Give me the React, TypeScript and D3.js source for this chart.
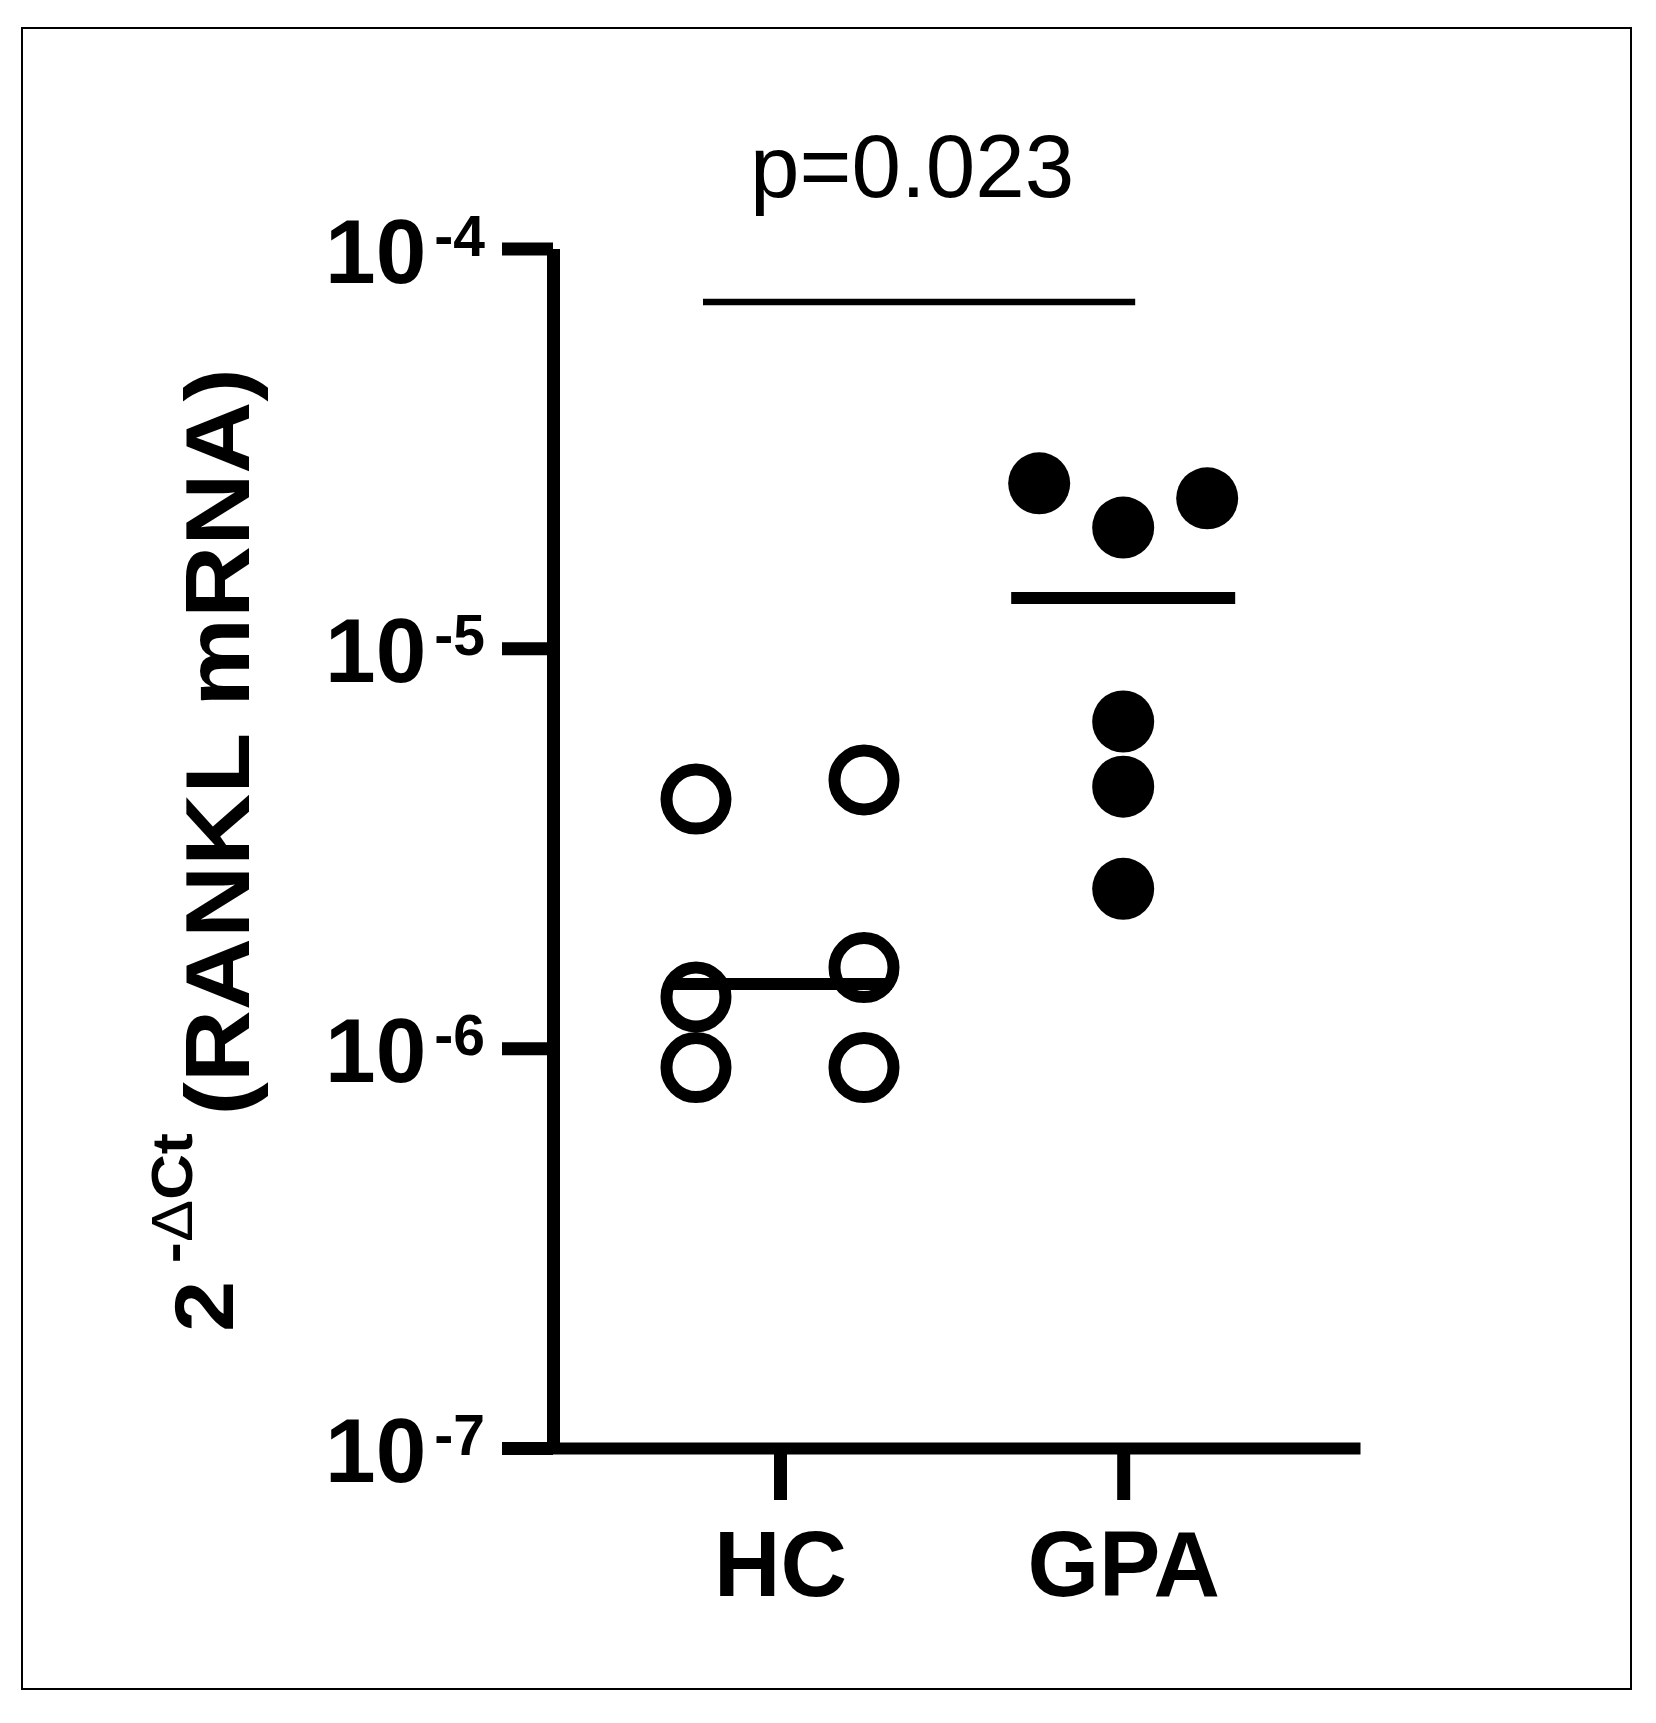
import React, { useEffect, useRef } from 'react';
import * as d3 from 'd3';

// groups on the x axis
const groups = ['HC', 'GPA'];

// HC (open circles), values and the jitter column each point sits in
const hcValues = [4.198e-6, 1.343e-6, 8.945e-7, 4.685e-6, 1.591e-6, 8.945e-7];
const hcColumns = [-1, -1, -1, 1, 1, 1];

// GPA (filled circles)
const gpaValues = [2.586e-5, 2.005e-5, 2.373e-5, 6.561e-6, 4.508e-6, 2.504e-6];
const gpaColumns = [-1, 0, 1, 0, 0, 0];

// horizontal centre lines: HC median, GPA mean
const centerLines = [1.447e-6, 1.336e-5];

const yTicks = [1e-7, 1e-6, 1e-5, 1e-4];
const yTickExponents = ['-7', '-6', '-5', '-4'];

const pLabel = 'p=0.023';

const FONT = '"Liberation Sans", Arial, Helvetica, sans-serif';

const W = 1656;
const H = 1723;

const App: React.FC = () => {
  const svgRef = useRef<SVGSVGElement | null>(null);

  useEffect(() => {
    if (!svgRef.current) return;
    const svg = d3.select(svgRef.current);
    svg.selectAll('*').remove();

    const y = d3.scaleLog().domain([1e-7, 1e-4]).range([1448, 248.5]);
    const x = d3
      .scalePoint<string>()
      .domain(groups)
      .range([502, 1360])
      .padding(0.75)
      .align(0.54);
    const colStep = 84;

    // outer frame
    svg
      .append('rect')
      .attr('x', 22)
      .attr('y', 28)
      .attr('width', 1609)
      .attr('height', 1661)
      .attr('fill', 'none')
      .attr('stroke', '#000')
      .attr('stroke-width', 2);

    // y axis
    const yAxis = svg
      .append('g')
      .attr('transform', 'translate(553,0)')
      .call(
        d3
          .axisLeft(y)
          .tickValues(yTicks)
          .tickSize(51)
          .tickSizeOuter(0)
          .tickFormat(() => '')
      );
    yAxis.select('.domain').attr('stroke', '#000').attr('stroke-width', 13);
    yAxis.selectAll('.tick line').attr('stroke', '#000').attr('stroke-width', 13);

    yTicks.forEach((t, i) => {
      const txt = svg
        .append('text')
        .attr('x', 485)
        .attr('y', y(t) + 34)
        .attr('text-anchor', 'end')
        .attr('font-family', FONT)
        .attr('font-weight', 'bold')
        .attr('font-size', 91)
        .attr('fill', '#000');
      txt.append('tspan').text('10');
      txt
        .append('tspan')
        .attr('dx', 8)
        .attr('dy', -27)
        .attr('font-size', 57)
        .text(yTickExponents[i]);
    });

    // x axis
    const xAxis = svg
      .append('g')
      .attr('transform', 'translate(0,1448)')
      .call(d3.axisBottom(x).tickSize(52).tickSizeOuter(0));
    xAxis.select('.domain').attr('stroke', '#000').attr('stroke-width', 12);
    xAxis.selectAll('.tick line').attr('stroke', '#000').attr('stroke-width', 13);
    xAxis
      .selectAll('.tick text')
      .attr('y', 148)
      .attr('dy', null)
      .attr('font-size', 92)
      .attr('font-weight', 'bold')
      .attr('font-family', FONT)
      .attr('fill', '#000');

    // points
    svg
      .append('g')
      .selectAll('circle')
      .data(hcValues)
      .join('circle')
      .attr('cx', (d, i) => (x('HC') as number) + hcColumns[i] * colStep)
      .attr('cy', (d) => y(d))
      .attr('r', 29.5)
      .attr('fill', 'none')
      .attr('stroke', '#000')
      .attr('stroke-width', 12);

    svg
      .append('g')
      .selectAll('circle')
      .data(gpaValues)
      .join('circle')
      .attr('cx', (d, i) => (x('GPA') as number) + gpaColumns[i] * colStep)
      .attr('cy', (d) => y(d))
      .attr('r', 31)
      .attr('fill', '#000');

    // median / mean lines
    svg
      .append('g')
      .selectAll('line')
      .data(centerLines)
      .join('line')
      .attr('x1', (d, i) => (x(groups[i]) as number) - 112)
      .attr('x2', (d, i) => (x(groups[i]) as number) + 112)
      .attr('y1', (d) => y(d))
      .attr('y2', (d) => y(d))
      .attr('stroke', '#000')
      .attr('stroke-width', 12);

    // significance bar
    const bx1 = (x('HC') as number) - 77;
    const bx2 = (x('GPA') as number) + 12;
    svg
      .append('line')
      .attr('x1', bx1)
      .attr('x2', bx2)
      .attr('y1', 302)
      .attr('y2', 302)
      .attr('stroke', '#000')
      .attr('stroke-width', 6.5);
    svg
      .append('text')
      .attr('x', (bx1 + bx2) / 2 - 7)
      .attr('y', 197)
      .attr('text-anchor', 'middle')
      .attr('font-family', FONT)
      .attr('font-size', 89)
      .attr('fill', '#000')
      .text(pLabel);

    // y axis title, rotated and a bit stretched along the text, like the original
    const title = svg
      .append('g')
      .attr('transform', 'translate(249,1332) rotate(-90) scale(1.11,1)')
      .attr('font-family', FONT)
      .attr('fill', '#000');
    title
      .append('text')
      .attr('x', 0)
      .attr('y', -16)
      .attr('font-weight', 'bold')
      .attr('font-size', 83)
      .text('2');
    const sup = title
      .append('text')
      .attr('x', 62)
      .attr('y', -57)
      .attr('font-size', 57);
    sup.append('tspan').attr('font-weight', 'bold').text('-');
    sup.append('tspan').text('\u0394');
    sup.append('tspan').attr('font-weight', 'bold').text('Ct');
    title
      .append('text')
      .attr('x', 195)
      .attr('y', 0)
      .attr('font-weight', 'bold')
      .attr('font-size', 90)
      .text('(RANKL mRNA)');
  }, []);

  return (
    <svg
      ref={svgRef}
      width={W}
      height={H}
      style={{ position: 'absolute', left: 0, top: 0, background: '#fff' }}
    />
  );
};

export default App;
